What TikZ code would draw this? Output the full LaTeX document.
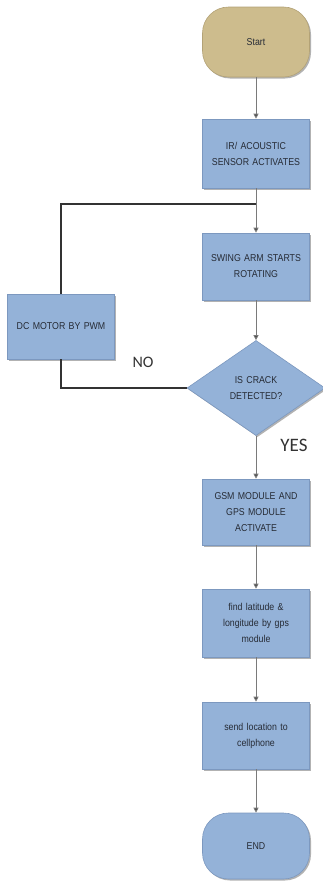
\documentclass[tikz,border=0pt]{standalone}
\usepackage{fontspec}
\setmainfont{Liberation Sans}
\newfontfamily\boxfont[FakeStretch=0.88]{Liberation Sans}
\newfontfamily\labelfont{Carlito}
\usetikzlibrary{arrows.meta,shapes.geometric,shadows}

\definecolor{boxblue}{HTML}{94B2D8}
\definecolor{boxedge}{HTML}{7C98BF}
\definecolor{termtan}{HTML}{CDBC8D}
\definecolor{termedge}{HTML}{B3A276}
\definecolor{flowgray}{HTML}{7A7A7A}
\definecolor{loopdark}{HTML}{333333}
\definecolor{boxtext}{HTML}{262B35}

\tikzset{
  procbox/.style={rectangle, fill=boxblue, draw=boxedge, line width=0.6pt,
    minimum width=107pt, minimum height=67pt, inner sep=2pt,
    text width=103pt, align=center,
    font=\boxfont\fontsize{10}{16}\selectfont, text=boxtext,
    drop shadow={shadow xshift=1.5pt, shadow yshift=-1.5pt, opacity=0.3, fill=black}},
  terminal/.style={procbox, rounded corners=26pt},
  decision/.style={diamond, fill=boxblue, draw=boxedge, line width=0.6pt,
    minimum width=138pt, minimum height=90pt, inner sep=0pt, text width=72pt,
    align=center, font=\boxfont\fontsize{10}{16}\selectfont, text=boxtext,
    drop shadow={shadow xshift=1.5pt, shadow yshift=-1.5pt, opacity=0.3, fill=black}},
  flow/.style={draw=flowgray, line width=1pt,
    -{Triangle[length=5pt,width=5pt,fill=loopdark]}},
  loop/.style={draw=loopdark, line width=1.3pt},
  branch/.style={text=loopdark, inner sep=0pt}
}

\begin{document}
\begin{tikzpicture}[x=1pt,y=-1pt]
  \useasboundingbox (0,0) rectangle (323,881);

  % main column of steps
  \node[terminal, fill=termtan, draw=termedge, minimum height=70pt] (start) at (256,42) {Start};
  \node[procbox, minimum height=69pt] (ir) at (256,153.5) {IR/ ACOUSTIC\\SENSOR ACTIVATES};
  \node[procbox] (swing) at (256,266.5) {SWING ARM STARTS\\ROTATING};
  \node[decision] (crack) at (256,388) {IS CRACK\\DETECTED?};
  \node[procbox, minimum height=66pt] (gsm) at (256,512) {GSM MODULE AND\\GPS MODULE\\ACTIVATE};
  \node[procbox, minimum height=68pt] (find) at (256,623) {find latitude \&\\longitude by gps\\module};
  \node[procbox] (send) at (256,735.5) {send location to\\cellphone};
  \node[terminal, minimum height=66pt] (stop) at (256,846) {END};

  % side branch
  \node[procbox, minimum height=65pt] (motor) at (61,326.5) {DC MOTOR BY PWM};

  % flow arrows
  \coordinate (merge) at (256,204);
  \draw[flow] (start) -- (ir);
  \draw[flow] (ir) -- (swing);
  \draw[flow] (swing) -- (crack);
  \draw[flow] (crack) -- (gsm);
  \draw[flow] (gsm) -- (find);
  \draw[flow] (find) -- (send);
  \draw[flow] (send) -- (stop);

  % NO loop back to the swing arm
  \draw[loop] (crack.west) -| (motor.south);
  \draw[loop] (motor.north) |- (merge);

  % branch labels
  \node[branch, font=\labelfont\fontsize{16}{16}\selectfont] (nolabel) at (143,362) {NO};
  \node[branch, font=\labelfont\fontsize{19}{19}\selectfont] (yeslabel) at (294,445) {YES};
\end{tikzpicture}
\end{document}
